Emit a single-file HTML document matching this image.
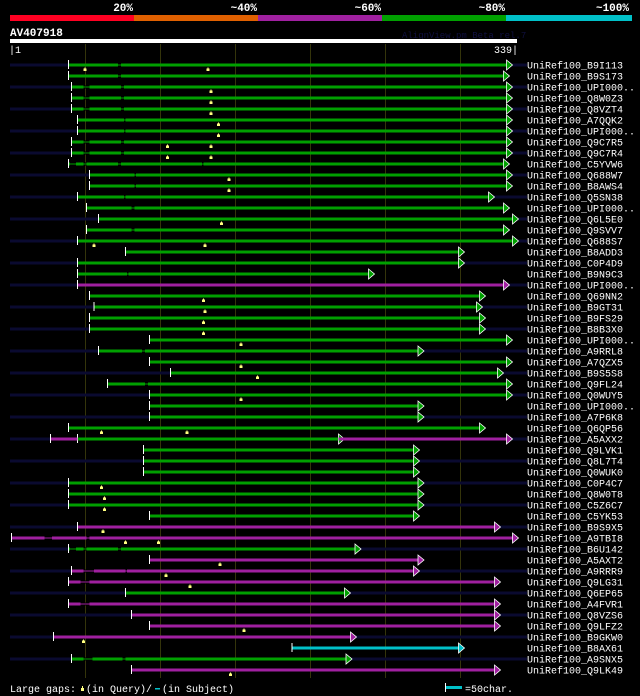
<!DOCTYPE html>
<html><head><meta charset="utf-8"><style>
html,body{margin:0;padding:0;background:#000;width:640px;height:696px;overflow:hidden}
svg{display:block}
text{font-family:"Liberation Mono",monospace}
</style></head><body>
<svg id="chart" width="640" height="696" viewBox="0 0 640 696" xmlns="http://www.w3.org/2000/svg">
<g>
<rect x="10" y="15" width="124" height="6" fill="#ff0022"/>
<rect x="134" y="15" width="124" height="6" fill="#e06000"/>
<rect x="258" y="15" width="124" height="6" fill="#a020a0"/>
<rect x="382" y="15" width="124" height="6" fill="#00a000"/>
<rect x="506" y="15" width="126" height="6" fill="#00c0c8"/>
<g font-size="11" font-weight="bold" fill="#fff" text-anchor="end">
<text x="133" y="11">20%</text>
<text x="257" y="11">~40%</text>
<text x="381" y="11">~60%</text>
<text x="505" y="11">~80%</text>
<text x="629" y="11">~100%</text>
</g></g>
<text x="10" y="36" font-size="11" font-weight="bold" fill="#fff">AV407918</text>
<text x="402" y="38" font-size="9" fill="#101040">AlignView.pm Beta rel.7</text>
<rect x="10" y="39" width="507" height="4" fill="#fff"/>
<text x="9" y="53" font-size="10" fill="#fff">|1</text>
<text x="518" y="53" font-size="10" fill="#fff" text-anchor="end">339|</text>
<g id="grid"></g>
<g id="rows"></g>
<g font-size="10" fill="#fff">
<text x="10" y="692">Large gaps:</text>
<rect x="81" y="688" width="3" height="3" fill="#ffff80"/>
<rect x="82" y="686" width="1" height="2" fill="#ffff80"/>
<text x="86" y="692">(in Query)/</text>
<rect x="155" y="688" width="5" height="1.5" fill="#00c0c8"/>
<text x="162" y="692">(in Subject)</text>
<rect x="445" y="683" width="1" height="9" fill="#fff"/>
<rect x="446" y="686" width="16" height="3" fill="#00c0c8"/>
<text x="465" y="692">=50char.</text>
</g>
</svg>
<script>
const names=["B9I113","B9S173","UPI000..","Q8W0Z3","Q8VZT4","A7QQK2","UPI000..","Q9C7R5","Q9C7R4","C5YVW6","Q688W7","B8AWS4","Q5SN38","UPI000..","Q6L5E0","Q9SVV7","Q688S7","B8ADD3","C0P4D9","B9N9C3","UPI000..","Q69NN2","B9GT31","B9FS29","B8B3X0","UPI000..","A9RRL8","A7QZX5","B9S5S8","Q9FL24","Q0WUY5","UPI000..","A7P6K8","Q6QP56","A5AXX2","Q9LVK1","Q8L7T4","Q0WUK0","C0P4C7","Q8W0T8","C5Z6C7","C5YK53","B9S9X5","A9TBI8","B6U142","A5AXT2","A9RRR9","Q9LG31","Q6EP65","A4FVR1","Q8VZS6","Q9LFZ2","B9GKW0","B8AX61","A9SNX5","Q9LK49"];
const starts=[40,40,42,42,42,46,46,42,42,40,54,54,46,52,60,52,46,78,46,46,46,54,57,54,54,94,60,94,108,66,94,94,94,40,46,90,90,90,40,40,40,94,46,2,40,94,42,40,78,40,82,94,30,189,42,82];
const ends=[332,330,332,332,332,332,332,332,332,330,332,332,320,330,336,330,336,300,300,240,330,314,312,314,314,332,273,332,326,332,332,273,273,314,220,270,270,270,273,273,273,270,324,336,231,273,270,324,224,324,324,324,228,300,225,324];
const colors=["g","g","g","g","g","g","g","g","g","g","g","g","g","g","g","g","g","g","g","g","m","g","g","g","g","g","g","g","g","g","g","g","g","g","g","g","g","g","g","g","g","g","m","m","g","m","m","m","g","m","m","m","m","c","g","m"];
const gaps=[[[73,75]],[[73,75]],[[50,54],[75,77]],[[50,54],[75,77]],[[50,54],[75,77]],[[77,78]],[[77,78]],[[50,54],[75,77]],[[50,54],[75,77]],[[41,45],[50,52],[73,75],[129,130]],[[84,85]],[[84,85]],[[77,78]],[[82,84]],[],[[82,84]],[],[],[],[[79,80]],[],[],[],[],[],[],[[89,91]],[],[],[[91,93]],[],[],[],[],[],[],[],[],[],[],[],[],[],[[24,29],[52,54]],[[41,45],[50,52],[73,75]],[],[[50,57],[78,79]],[[48,54]],[],[[48,54]],[],[],[],[],[[50,56],[76,78]],[]];
const queryGaps=[[51,133],[],[135],[135],[135],[140],[140],[106,135],[106,135],[],[147],[147],[],[],[142],[],[57,131],[],[],[],[],[130],[131],[130],[130],[155],[],[155],[166],[],[155],[],[],[62,119],[],[],[],[],[62],[64],[64],[],[63],[78,100],[],[141],[105],[121],[],[],[],[157],[50],[],[],[148]];
const extraRow=[34,34];
const extraStart=[28,220];
const extraEnd=[46,332];
const extraColor=["m","m"];
const extraArrow=[false,true];
const gridTicks=[51,101,151,201,251,301];

const palette={g:"#00a000",m:"#a020a0",c:"#00c0c8"};
const NS="http://www.w3.org/2000/svg";
const xOf=p=>10+(p-1)*1.5;
const yOf=i=>65+i*11;
function mk(tag,attrs,parent){const e=document.createElementNS(NS,tag);for(const k in attrs)e.setAttribute(k,attrs[k]);parent.appendChild(e);return e;}
const grid=document.getElementById('grid');
gridTicks.forEach(t=>{
  const l=mk('line',{x1:xOf(t)+0.5,x2:xOf(t)+0.5,y1:44,y2:678,stroke:'#34340a','stroke-width':1},grid);
  
  
});
const rows=document.getElementById('rows');
function segment(g,y,s,e,col,arrow,tick){
  const c=palette[col];
  const b=mk('rect',{x:xOf(s),y:y-1.5,width:xOf(e)-xOf(s),height:3,fill:c},g);
  
  
  if(tick){const t=mk('rect',{x:xOf(s)-0.5,y:y-5,width:1,height:9,fill:'#fff'},g);
    
    }
  if(arrow){const x=xOf(e);const a=mk('polygon',{points:`${x},${y-5} ${x+6},${y} ${x},${y+5}`,fill:c,stroke:'#fff','stroke-width':0.8},g);
    
    }
}
names.forEach((n,i)=>{
  const y=yOf(i);
  const g=mk('g',{},rows);
  
  
  if(i%2===0){const s=mk('rect',{x:10,y:y-1.5,width:517,height:3,fill:'#0a0a30'},g);
    
    }
  segment(g,y,starts[i],ends[i],colors[i],true,true);
  gaps[i].forEach(([a,b])=>{
    mk('rect',{x:xOf(a),y:y-1.5,width:xOf(b)-xOf(a),height:3,fill:'#000'},g);
    const l=mk('rect',{x:xOf(a),y:y-0.5,width:xOf(b)-xOf(a),height:1,fill:palette[colors[i]]},g);
    
    
  });
  queryGaps[i].forEach(q=>{
    const x=xOf(q);
    mk('rect',{x:x-0.5,y:y+2.5,width:1,height:1.5,fill:'#ffff80'},g);
    const m=mk('rect',{x:x-1.5,y:y+3.5,width:3,height:2.5,fill:'#ffff80'},g);
    
    
  });
  const t=mk('text',{x:527,y:y+3.5,'font-size':10,fill:'#fff'},g);
  t.textContent='UniRef100_'+n;
  
  
});
extraRow.forEach((r,k)=>{
  const g=mk('g',{},rows);
  
  
  segment(g,yOf(r),extraStart[k],extraEnd[k],extraColor[k],extraArrow[k],!extraArrow[k]);
});
</script>
</body></html>
